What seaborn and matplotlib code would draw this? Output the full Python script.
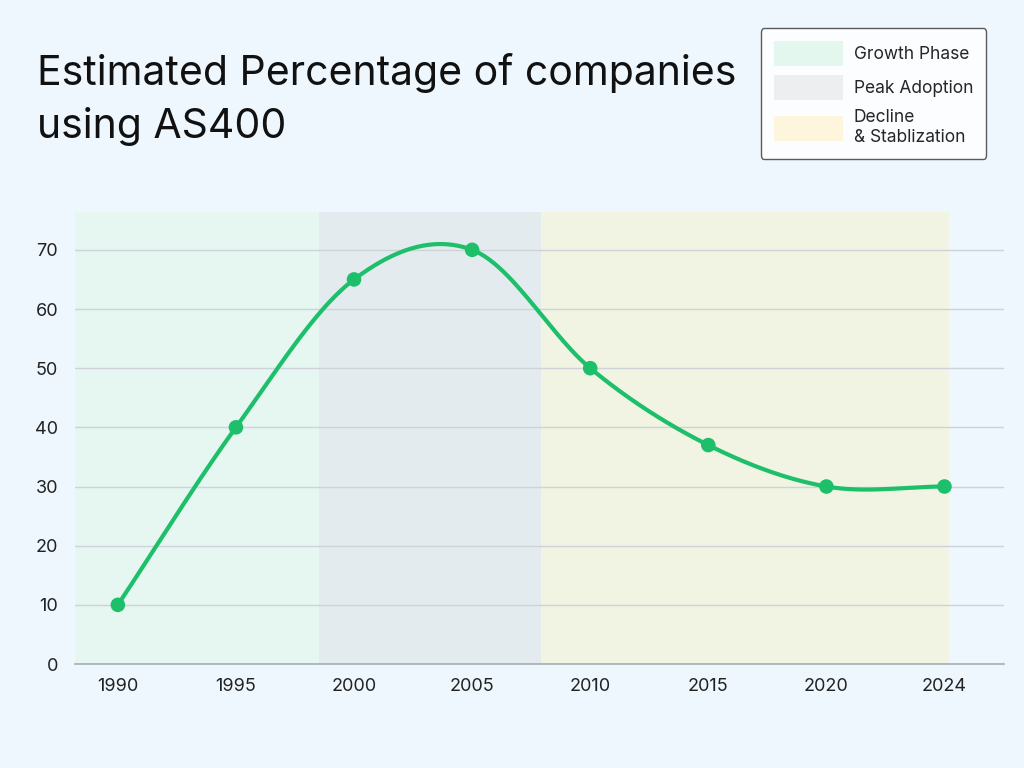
import numpy as np
import matplotlib.pyplot as plt
import seaborn as sns
from matplotlib.patches import Patch

years = ["1990", "1995", "2000", "2005", "2010", "2015", "2020", "2024"]
percent = [10, 40, 65, 70, 50, 37, 30, 30]
phase_names = ["Growth Phase", "Peak Adoption", "Decline\n& Stablization"]
phase_spans = [(-0.36, 1.70), (1.70, 3.58), (3.58, 7.04)]
phase_colors = ["#E6F6F1", "#E3EBEF", "#F1F4E3"]
legend_colors = ["#E3F7EE", "#ECEEF0", "#FDF6DC"]

BG = "#EEF7FD"
GREEN = "#1DBF6B"


def catmull_rom(x, y, n=50):
    # smooth curve through the read points (Catmull-Rom, like a monotone-ish chart spline)
    x = np.asarray(x, float); y = np.asarray(y, float)
    px = np.concatenate([[2 * x[0] - x[1]], x, [2 * x[-1] - x[-2]]])
    py = np.concatenate([[2 * y[0] - y[1]], y, [2 * y[-1] - y[-2]]])
    xs, ys = [], []
    t = np.linspace(0, 1, n)
    for i in range(1, len(px) - 2):
        for p, out in ((px, xs), (py, ys)):
            p0, p1, p2, p3 = p[i - 1], p[i], p[i + 1], p[i + 2]
            out.extend(0.5 * (2 * p1 + (-p0 + p2) * t + (2 * p0 - 5 * p1 + 4 * p2 - p3) * t**2
                              + (-p0 + 3 * p1 - 3 * p2 + p3) * t**3))
    return np.array(xs), np.array(ys)


sns.set_theme(style="white")
plt.rcParams["font.family"] = ["Inter", "DejaVu Sans"]

fig = plt.figure(figsize=(10.24, 7.68), dpi=100, facecolor=BG)
ax = fig.add_axes([0.073, 0.1354, 0.907, 0.5886], facecolor=BG)

for (x0, x1), c in zip(phase_spans, phase_colors):
    ax.axvspan(x0, x1, ymin=0, ymax=1, color=c, lw=0, zorder=0)

idx = np.arange(len(years))
xs, ys = catmull_rom(idx, percent)
sns.lineplot(x=xs, y=ys, ax=ax, color=GREEN, lw=3, zorder=3, sort=False)
sns.scatterplot(x=idx, y=percent, ax=ax, color=GREEN, s=110, edgecolor="none", zorder=4)

ax.set_xlim(-0.365, 7.5)
ax.set_ylim(0, 76.4)
ax.set_yticks(range(0, 71, 10))
ax.set_xticks(idx, years)
ax.yaxis.grid(True, color="#CDD3D8", lw=1)
for g in ax.get_ygridlines():
    g.set_zorder(1)
for s in ["top", "right", "left"]:
    ax.spines[s].set_visible(False)
ax.spines["bottom"].set_color("#A8B0B8")
ax.tick_params(axis="both", labelsize=13, colors="#222222", length=0, pad=10)
ax.tick_params(axis="y", pad=12)
ax.set_xlabel(""); ax.set_ylabel("")

fig.text(0.036, 0.87, "Estimated Percentage of companies\nusing AS400", fontsize=29.5,
         color="#111111", va="center", ha="left", linespacing=1.45)

handles = [Patch(facecolor=c, edgecolor="none") for c in legend_colors]
leg = fig.legend(handles, phase_names, loc="upper right", bbox_to_anchor=(0.963, 0.9635),
                 borderaxespad=0, fontsize=12.5, frameon=True, handlelength=4,
                 handleheight=1.8, labelspacing=0.55, borderpad=0.75, handletextpad=0.6,
                 facecolor="white", edgecolor="#333333", fancybox=True)
leg.get_frame().set_linewidth(1)

fig.savefig("out.png", dpi=100, facecolor=BG)
